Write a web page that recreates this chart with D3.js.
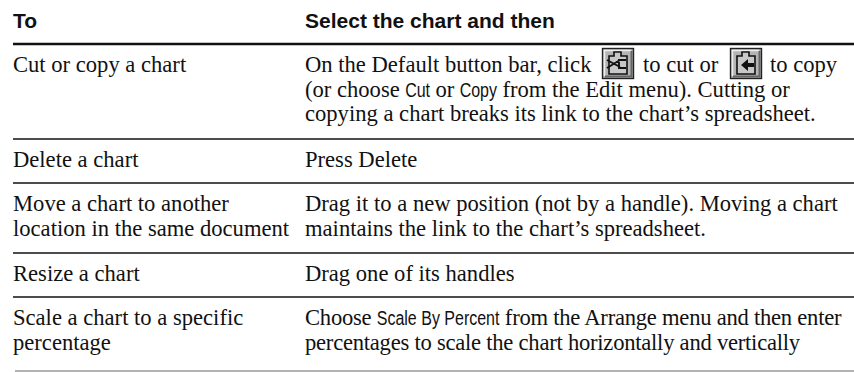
<!DOCTYPE html>
<html>
<head>
<meta charset="utf-8">
<script src="https://cdnjs.cloudflare.com/ajax/libs/d3/7.8.5/d3.min.js"></script>
<style>
html, body { margin: 0; padding: 0; background: #fff; }
svg { display: block; }
text { fill: #111; font-family: "Liberation Serif", serif; font-size: 22.6px; }
.head { font-family: "Liberation Sans", sans-serif; font-weight: bold; font-size: 21px; }
.ui { font-family: "Liberation Sans", sans-serif; font-size: 20px; }
.tight { letter-spacing: -0.24px; }
</style>
</head>
<body>
<script>
var width = 854;
var height = 372;

var headers = ["To", "Select the chart and then"];

// left column, one entry per line, per row
var tasks = [
    ["Cut or copy a chart"],
    ["Delete a chart"],
    ["Move a chart to another", "location in the same document"],
    ["Resize a chart"],
    ["Scale a chart to a specific", "percentage"]
];

// right column, line by line. runs marked ui are the menu command names
var actions = [
    [
        [["On the Default button bar, click"], ["to cut or", "afterCut"], ["to copy", "afterCopy"]],
        [["(or choose"], ["Cut", "ui"], ["or"], ["Copy", "ui"], ["from the Edit menu). Cutting or"]],
        [["copying a chart breaks its link to the chart\u2019s spreadsheet."]]
    ],
    [[["Press Delete"]]],
    [
        [["Drag it to a new position (not by a handle). Moving a chart"]],
        [["maintains the link to the chart\u2019s spreadsheet."]]
    ],
    [[["Drag one of its handles"]]],
    [
        [["Choose", "tight"], ["Scale By Percent", "ui"], ["from the Arrange menu and then enter", "tight"]],
        [["percentages to scale the chart horizontally and vertically", "tight"]]
    ]
];

var rowEdges = [44, 139, 183, 253, 297, 371];

var x = d3.scaleOrdinal().domain(["task", "action"]).range([13, 305]);

var svg = d3.select("body").append("svg")
    .attr("width", width)
    .attr("height", height);

// header
svg.selectAll(".head").data(headers).enter().append("text")
    .attr("class", "head")
    .attr("x", function(d, i) { return x.range()[i]; })
    .attr("y", 28)
    .text(function(d) { return d; });

// rules
svg.selectAll("line").data(rowEdges).enter().append("line")
    .attr("x1", function(d, i) { return i == 5 ? 15 : 13; })
    .attr("x2", width)
    .attr("y1", function(d) { return d; })
    .attr("y2", function(d) { return d; })
    .attr("stroke", function(d, i) { return i == 5 ? "#999" : "#111"; })
    .attr("stroke-width", function(d, i) { return i == 0 ? 2.4 : (i == 5 ? 1.6 : 1.3); });

var linePitch = 24.7;
var firstBase = 28;

tasks.forEach(function(lines, r) {
    lines.forEach(function(line, l) {
        svg.append("text")
            .attr("x", x("task"))
            .attr("y", rowEdges[r] + firstBase + l * linePitch)
            .text(line);
    });
});

// menu names are set condensed, so runs get placed one after the other
var uiSqueeze = 0.8;
var wordGap = 5.4;

actions.forEach(function(lines, r) {
    lines.forEach(function(runs, l) {
        var base = rowEdges[r] + firstBase + l * linePitch;
        var cx = x("action");
        runs.forEach(function(run) {
            var t = svg.append("text").text(run[0]);
            if (run[1] == "afterCut") {
                t.attr("x", 643).attr("y", base);
            } else if (run[1] == "afterCopy") {
                t.attr("x", 770).attr("y", base);
            } else if (run[1] == "ui") {
                t.attr("class", "ui")
                    .attr("transform", "translate(" + cx + "," + base + ") scale(" + uiSqueeze + ",1)");
                cx += t.node().getComputedTextLength() * uiSqueeze + wordGap;
            } else {
                t.attr("class", run[1] || null).attr("x", cx).attr("y", base);
                cx += t.node().getComputedTextLength() + wordGap;
            }
        });
    });
});

// toolbar buttons
function button(bx, by) {
    var g = svg.append("g").attr("transform", "translate(" + bx + "," + by + ")");
    g.append("rect").attr("x", 0.5).attr("y", 0.5).attr("width", 31).attr("height", 30)
        .attr("fill", "#b4b4b4").attr("stroke", "#222").attr("stroke-width", 1.4);
    g.append("path").attr("d", "M2.5 28V2.5H29").attr("fill", "none").attr("stroke", "#eee").attr("stroke-width", 1.5);
    g.append("path").attr("d", "M29.5 3V28.5H3").attr("fill", "none").attr("stroke", "#666").attr("stroke-width", 2);
    g.append("path").attr("d", "M7 8H12V4H19V8H25V26H7Z").attr("fill", "#c8c8c8").attr("stroke", "#111").attr("stroke-width", 1.6);
    return g;
}
button(602, 48).append("path")
    .attr("d", "M5 12L18 19M5 20L18 12M24 12H17V20H24")
    .attr("fill", "none").attr("stroke", "#111").attr("stroke-width", 1.9);
button(730, 48).append("path")
    .attr("d", "M24 15H18V11L11 17L18 23V19H24Z")
    .attr("fill", "#111");
</script>
</body>
</html>
